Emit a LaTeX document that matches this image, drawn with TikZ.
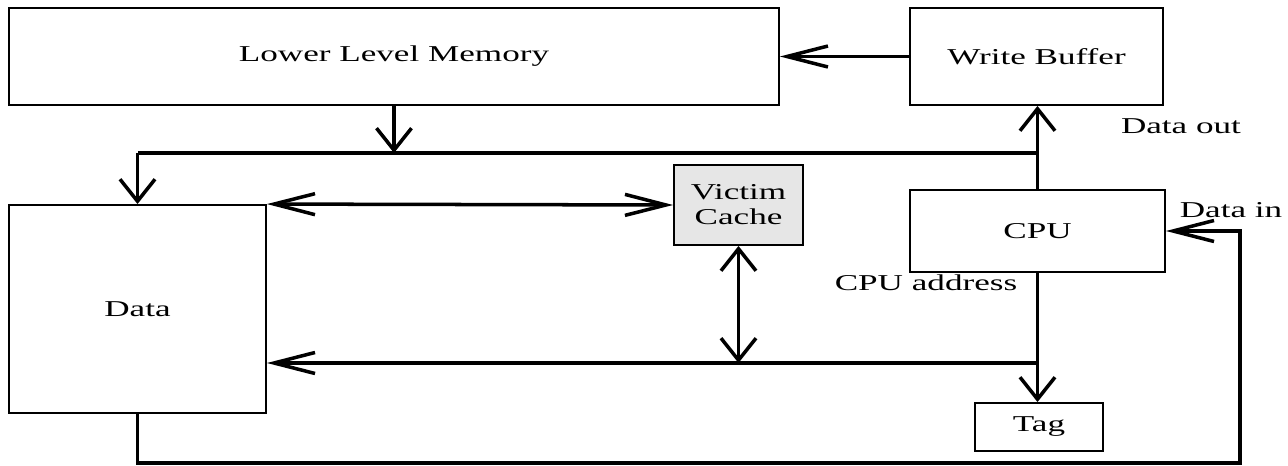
\documentclass[tikz,border=0pt]{standalone}
\usepackage{fontspec}
\setmainfont{Liberation Serif}[FakeStretch=1.55]
\usepackage{tikz}
\usetikzlibrary{arrows.meta}
\definecolor{vcgray}{RGB}{230,230,230}
\tikzset{
    blk/.style={draw,line width=1.1pt,inner sep=0pt,font=\fontsize{12.9}{14.2}\selectfont,align=center},
    conn/.style={line width=2pt},
    harr/.style={conn,>={Straight Barb[length=0.82cm,width=0.42cm]}},
    varr/.style={conn,>={Straight Barb[length=0.44cm,width=0.7cm]}},
    lbl/.style={inner sep=0pt,font=\fontsize{12.9}{14.2}\selectfont}
}
\begin{document}
\begin{tikzpicture}[x=0.02cm,y=-0.02cm]
                \useasboundingbox (0,0) rectangle (1288,466);
                \node[blk,minimum width=15.4cm,minimum height=1.94cm] (llm) at (394,56.5) {Lower Level Memory};
                \node[blk,minimum width=5.06cm,minimum height=1.94cm] (wb) at (1036.5,56.5) {Write Buffer};
                \node[blk,fill=vcgray,minimum width=2.58cm,minimum height=1.6cm] (vc) at (738.5,205) {Victim\\Cache};
                \node[blk,minimum width=5.14cm,minimum height=4.16cm] (data) at (137.5,309) {Data};
                \node[blk,minimum width=5.1cm,minimum height=1.64cm] (cpu) at (1037.5,231) {CPU};
                \node[blk,minimum width=2.56cm,minimum height=0.96cm] (tag) at (1039,427) {Tag};
                \node[lbl] (dout) at (1181,126) {Data out};
                \node[lbl] (din) at (1231,210) {Data in};
                \node[lbl] (caddr) at (926,283) {CPU address};
                \coordinate (busl) at (137.5,153);
                \coordinate (low) at (738.5,363);
                \coordinate (loop) at (1240,463);
                \draw[harr,->] (wb.west) -- (llm.east);
                \draw[varr,->] (cpu.north) -- (cpu.north |- wb.south);
                \draw[conn] (cpu.north |- busl) -- (busl);
                \draw[varr,->] (busl) -- (data.north);
                \draw[varr,->] (llm.south) -- (llm.south |- busl);
                \draw[harr,<->] (data.north east) -- (vc.west);
                \draw[varr,<->] (vc.south) -- (low);
                \draw[varr,->] (cpu.south) -- (cpu.south |- tag.north);
                \draw[harr,->] (cpu.south |- low) -- (data.east |- low);
                \draw[harr,->] (data.south) |- (loop) |- (cpu.east);
            \end{tikzpicture}
\end{document}
